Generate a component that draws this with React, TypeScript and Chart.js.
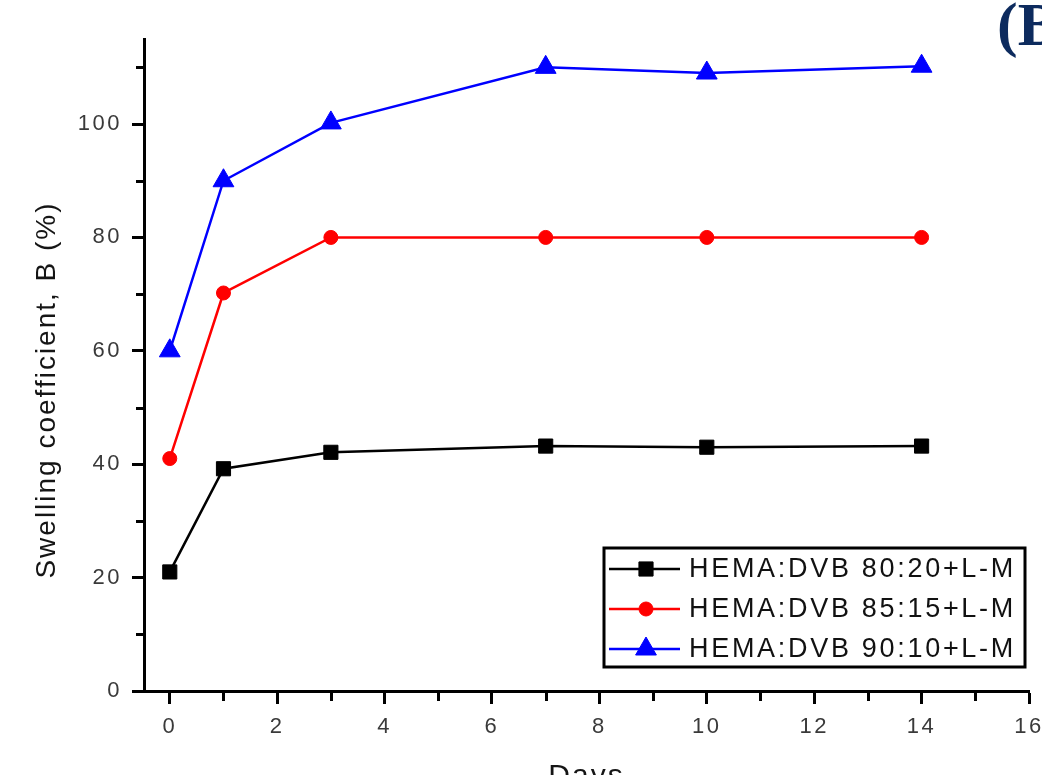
import { useEffect, useRef } from 'react';
import { Chart, registerables } from 'chart.js';
import { drawPoint } from 'chart.js/helpers';

Chart.register(...registerables);

// ---- data ----
const days = [0, 1, 3, 7, 10, 14];
const seriesLabels = ['HEMA:DVB 80:20+L-M', 'HEMA:DVB 85:15+L-M', 'HEMA:DVB 90:10+L-M'];
const swelling8020 = [21, 39.2, 42.1, 43.2, 43, 43.2];
const swelling8515 = [41, 70.2, 80, 80, 80, 80];
const swelling9010 = [60, 90, 100.2, 110, 109, 110.2];
const xTicks = [0, 2, 4, 6, 8, 10, 12, 14, 16];
const xMinorTicks = [1, 3, 5, 7, 9, 11, 13, 15];
const yTicks = [0, 20, 40, 60, 80, 100];
const yMinorTicks = [10, 30, 50, 70, 90, 110];
const xTitle = 'Days';
const yTitle = 'Swelling coefficient, B (%)';
const panelLabel = '(B)';

const FONT = '"Liberation Sans", Arial, sans-serif';

const toPoints = (vals: number[]) => days.map((d, i) => ({ x: d, y: vals[i] }));

const decorPlugin = {
  id: 'decor',
  beforeDraw(chart: any) {
    chart.ctx.letterSpacing = '2.5px';
  },
  beforeDatasetsDraw(chart: any) {
    chart.ctx.letterSpacing = '0px';
  },
  afterDraw(chart: any) {
    const { ctx, chartArea, scales } = chart;
    const x = scales.x;
    const y = scales.y;
    ctx.save();
    ctx.letterSpacing = '0px';
    // minor ticks
    ctx.strokeStyle = '#000';
    ctx.lineWidth = 3;
    ctx.beginPath();
    xMinorTicks.forEach((v) => {
      const px = Math.round(x.getPixelForValue(v)) + 0.5;
      ctx.moveTo(px, chartArea.bottom + 1);
      ctx.lineTo(px, chartArea.bottom + 10);
    });
    yMinorTicks.forEach((v) => {
      const py = Math.round(y.getPixelForValue(v)) + 0.5;
      ctx.moveTo(chartArea.left - 1, py);
      ctx.lineTo(chartArea.left - 8, py);
    });
    ctx.stroke();

    // axis titles
    ctx.fillStyle = '#151515';
    ctx.font = `28px ${FONT}`;
    ctx.letterSpacing = '2px';
    ctx.textAlign = 'center';
    ctx.textBaseline = 'middle';
    ctx.save();
    ctx.translate(47, 390);
    ctx.rotate(-Math.PI / 2);
    ctx.fillText(yTitle, 0, 0);
    ctx.restore();
    ctx.font = `30px ${FONT}`;
    ctx.textBaseline = 'alphabetic';
    ctx.fillText(xTitle, (chartArea.left + chartArea.right) / 2, 785);

    // panel label
    ctx.letterSpacing = '0px';
    ctx.textAlign = 'left';
    ctx.fillStyle = '#0d2b5e';
    ctx.font = 'bold 62px "Liberation Serif", "Times New Roman", serif';
    ctx.fillText(panelLabel, 997, 45);

    // legend
    const right = chartArea.right - 4;
    const bottom = chartArea.bottom - 24;
    const w = 421;
    const h = 119;
    const left = right - w;
    const top = bottom - h;
    ctx.fillStyle = '#fff';
    ctx.fillRect(left, top, w, h);
    ctx.lineWidth = 3;
    ctx.strokeStyle = '#000';
    ctx.strokeRect(left, top, w, h);
    chart.data.datasets.forEach((ds: any, i: number) => {
      const cy = top + 21 + i * 40;
      ctx.strokeStyle = ds.borderColor;
      ctx.fillStyle = ds.backgroundColor;
      ctx.lineWidth = 2.5;
      ctx.beginPath();
      ctx.moveTo(left + 5, cy);
      ctx.lineTo(left + 76, cy);
      ctx.stroke();
      ctx.lineWidth = 1;
      drawPoint(ctx, { pointStyle: ds.pointStyle, radius: ds.pointRadius, rotation: 0, borderWidth: 1 } as any, left + 42, cy);
      ctx.fillStyle = '#111';
      ctx.font = `27px ${FONT}`;
      ctx.letterSpacing = '2.7px';
      ctx.textAlign = 'left';
      ctx.textBaseline = 'middle';
      ctx.fillText(ds.label, left + 85, cy + 1);
      ctx.letterSpacing = '0px';
    });
    ctx.restore();
  },
};

export default function App() {
  const ref = useRef<HTMLCanvasElement>(null);
  useEffect(() => {
    document.body.style.margin = '0';
    const tickFont = { family: FONT, size: 22 };
    const chart = new Chart(ref.current!, {
      type: 'line',
      data: {
        datasets: [
          {
            label: seriesLabels[0],
            data: toPoints(swelling8020),
            borderColor: '#000000',
            backgroundColor: '#000000',
            pointStyle: 'rect',
            pointRadius: 10,
            pointBorderWidth: 1,
            borderWidth: 2.5,
            tension: 0,
          },
          {
            label: seriesLabels[1],
            data: toPoints(swelling8515),
            borderColor: '#ff0000',
            backgroundColor: '#ff0000',
            pointStyle: 'circle',
            pointRadius: 7,
            pointBorderWidth: 1,
            borderWidth: 2.5,
            tension: 0,
          },
          {
            label: seriesLabels[2],
            data: toPoints(swelling9010),
            borderColor: '#0000ff',
            backgroundColor: '#0000ff',
            pointStyle: 'triangle',
            pointRadius: 12,
            pointBorderWidth: 1,
            borderWidth: 2.5,
            tension: 0,
          },
        ],
      },
      options: {
        animation: false,
        responsive: false,
        events: [],
        layout: { padding: { left: 0, right: 8, top: 39, bottom: 0 } },
        plugins: { legend: { display: false }, tooltip: { enabled: false } },
        scales: {
          x: {
            type: 'linear',
            min: -0.48,
            max: 16,
            afterBuildTicks: (s: any) => {
              s.ticks = xTicks.map((v) => ({ value: v }));
            },
            afterFit: (s: any) => {
              s.height = 84;
              s.paddingLeft = 0;
              s.paddingRight = 0;
            },
            grid: { drawOnChartArea: false, tickLength: 13, tickWidth: 3, tickColor: '#000' },
            border: { display: true, width: 3, color: '#000' },
            ticks: { font: tickFont, color: '#3a3a3a', padding: 10, maxRotation: 0, callback: (v: any) => String(v) },
          },
          y: {
            type: 'linear',
            min: 0,
            max: 115,
            afterBuildTicks: (s: any) => {
              s.ticks = yTicks.map((v) => ({ value: v }));
            },
            afterFit: (s: any) => {
              s.width = 144;
              s.paddingTop = 0;
              s.paddingBottom = 0;
            },
            grid: { drawOnChartArea: false, tickLength: 12, tickWidth: 3, tickColor: '#000' },
            border: { display: true, width: 3, color: '#000' },
            ticks: { font: tickFont, color: '#3a3a3a', padding: 10, callback: (v: any) => String(v) },
          },
        },
      },
      plugins: [decorPlugin],
    } as any);
    return () => chart.destroy();
  }, []);
  return (
    <div style={{ position: 'absolute', left: 0, top: 0, width: 1042, height: 775, background: '#fff', overflow: 'hidden' }}>
      <canvas ref={ref} width={1042} height={775} style={{ width: '1042px', height: '775px', display: 'block' }} />
    </div>
  );
}
